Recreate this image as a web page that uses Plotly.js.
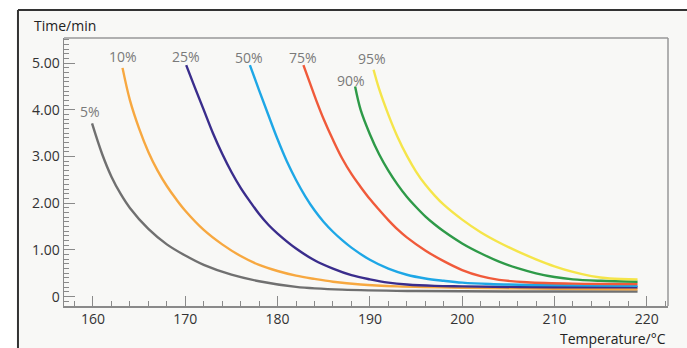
<!DOCTYPE html>
<html><head><meta charset="utf-8">
<script src="https://cdn.plot.ly/plotly-3.0.1.min.js"></script>
<style>html,body{margin:0;padding:0;background:#fff;}#c{width:687px;height:348px;}</style>
</head><body><div id="c"></div>
<script>
const seriesNames = ["5%","10%","25%","50%","75%","90%","95%"];
const seriesColors = ["#707070","#f7a840","#3a2d8c","#1ea7e6","#f05a3a","#2e9a48","#f5e54a"];
const x5  = [159.9,161,162,163,164,166,168,170,172,175,178,182,187,195,205,219];
const y5  = [3.71,3.05,2.57,2.2,1.9,1.45,1.12,0.88,0.68,0.47,0.33,0.21,0.15,0.12,0.11,0.11];
const x10 = [163.2,164,165,166,167,168,169,170,172,174,176,178,180,182,184,186,189,193,200,210,219];
const y10 = [4.9,4.21,3.6,3.1,2.7,2.37,2.09,1.84,1.43,1.12,0.87,0.68,0.55,0.45,0.38,0.32,0.26,0.22,0.19,0.17,0.16];
const x25 = [170.1,171,172,173,174,175,176,177,178,179,180,182,184,186,188,190,192,194,197,200,210,219];
const y25 = [4.96,4.5,4.0,3.5,3.06,2.67,2.33,2.04,1.77,1.54,1.35,1.03,0.78,0.6,0.46,0.37,0.3,0.26,0.23,0.22,0.2,0.2];
const x50 = [177,178,179,180,181,182,183,184,185,186,187,188,190,192,194,196,198,200,203,208,219];
const y50 = [4.96,4.42,3.89,3.37,2.9,2.5,2.15,1.85,1.6,1.39,1.21,1.05,0.79,0.6,0.47,0.39,0.34,0.3,0.27,0.25,0.23];
const x75 = [182.8,183.5,184.2,185,186,187,188,189,190,191,192,193,194,196,198,200,202,204,207,212,219];
const y75 = [4.96,4.58,4.2,3.8,3.36,2.96,2.63,2.35,2.09,1.86,1.64,1.44,1.27,0.99,0.76,0.57,0.44,0.36,0.31,0.28,0.27];
const x90 = [188.4,189,190,191,192,193,194,195,196,197,198,200,202,204,206,208,210,212,215,219];
const y90 = [4.5,4.0,3.48,3.05,2.7,2.4,2.14,1.92,1.72,1.55,1.4,1.14,0.93,0.75,0.61,0.5,0.42,0.37,0.34,0.32];
const x95 = [190.4,191,192,193,194,195,196,197,198,200,202,204,206,208,210,212,214,216,219];
const y95 = [4.86,4.45,3.9,3.42,3.02,2.68,2.4,2.17,1.97,1.65,1.38,1.16,0.97,0.8,0.65,0.53,0.44,0.39,0.37];
const xs = [x5,x10,x25,x50,x75,x90,x95];
const ys = [y5,y10,y25,y50,y75,y90,y95];
const labelX = [159.7,163.3,170.1,176.9,182.7,188.0,190.2];
const labelY = [3.97,5.14,5.14,5.13,5.13,4.64,5.11];
const xTickVals = [160,170,180,190,200,210,220];
const yTickVals = [0,1,2,3,4,5];
const yTickText = ["0","1.00","2.00","3.00","4.00","5.00"];

const traces = xs.map((x,i)=>({
  type:'scatter', mode:'lines', x:x, y:ys[i], name:seriesNames[i],
  line:{color:seriesColors[i], width:2.4, shape:'spline', smoothing:1},
  hoverinfo:'skip'
}));
const annotations = seriesNames.map((n,i)=>({
  x:labelX[i], y:labelY[i], xref:'x', yref:'y', text:n, showarrow:false,
  font:{family:'Open Sans, sans-serif', size:14, color:'#7a7a7a'}
}));
annotations.push({xref:'paper', yref:'paper', x:-0.053, y:1.045, xanchor:'left', yanchor:'middle',
  text:'Time/min', showarrow:false, font:{family:'Open Sans, sans-serif', size:14, color:'#222'}});
annotations.push({xref:'paper', yref:'paper', x:1.0, y:-0.078, xanchor:'right', yanchor:'top',
  text:'Temperature/°C', showarrow:false, font:{family:'Open Sans, sans-serif', size:14, color:'#222'}});

const layout = {
  width:687, height:348,
  margin:{l:64, r:19, t:38, b:42},
  paper_bgcolor:'#ffffff', plot_bgcolor:'#fdfdfc',
  showlegend:false,
  xaxis:{range:[156.86,222.3], tickvals:xTickVals, ticks:'inside', ticklen:10, tickwidth:1, tickcolor:'#8a8a8a',
    showline:true, linecolor:'#8a8a8a', linewidth:1.5, mirror:false, showgrid:false, zeroline:false,
    minor:{dtick:2, tick0:0, ticks:'inside', ticklen:5, tickcolor:'#8a8a8a', showgrid:false},
    tickfont:{family:'Open Sans, sans-serif', size:14, color:'#333'}},
  yaxis:{range:[-0.2,5.54], tickvals:yTickVals, ticktext:yTickText, ticks:'inside', ticklen:11, tickwidth:1, tickcolor:'#8a8a8a',
    showline:true, linecolor:'#8a8a8a', linewidth:1.5, showgrid:false, zeroline:false,
    minor:{dtick:0.1, tick0:0, ticks:'inside', ticklen:5, tickcolor:'#8a8a8a', showgrid:false},
    tickfont:{family:'Open Sans, sans-serif', size:14, color:'#333'}},
  shapes:[
    {type:'rect', xref:'paper', yref:'paper', x0:-0.0762, x1:1.04, y0:-0.16, y1:1.1045, fillcolor:'#f8f8f6', line:{width:0}, layer:'below'},
    {type:'line', xref:'paper', yref:'paper', x0:-0.0762, x1:1.04, y0:1.1045, y1:1.1045, line:{color:'#333', width:2}},
    {type:'line', xref:'paper', yref:'paper', x0:-0.0762, x1:-0.0762, y0:-0.16, y1:1.1045, line:{color:'#333', width:2}},
    {type:'line', xref:'paper', yref:'paper', x0:0, x1:1, y0:1, y1:1, line:{color:'#999', width:1.5}},
    {type:'line', xref:'paper', yref:'paper', x0:1, x1:1, y0:0, y1:1, line:{color:'#999', width:1.5}}
  ],
  annotations:annotations
};
Plotly.newPlot('c', traces, layout, {staticPlot:true, displayModeBar:false});
</script></body></html>
